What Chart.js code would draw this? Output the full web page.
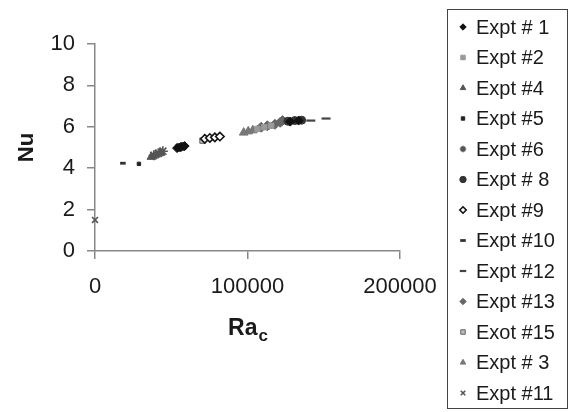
<!DOCTYPE html>
<html>
<head>
<meta charset="utf-8">
<script src="https://cdn.jsdelivr.net/npm/chart.js@4.4.1/dist/chart.umd.min.js"></script>
<style>
	body { margin: 0; background: #fff; }
	#wrap { width: 569px; height: 412px; }
</style>
</head>
<body>
<div id="wrap"><canvas id="nuChart" width="569" height="412"></canvas></div>
<script>
// [Ra_c, Nu] pairs for each experiment
var expt1  = [[53800, 4.97], [56300, 5.02], [58800, 5.07], [128000, 6.25], [133500, 6.30]];
var expt2  = [[106500, 5.90], [111000, 5.98], [115500, 6.05]];
var expt4  = [[37000, 4.55], [40000, 4.66], [43000, 4.75]];
var expt5  = [[28800, 4.21]];
var expt6  = [[38500, 4.62], [41500, 4.72], [44500, 4.82]];
var expt8  = [[55000, 5.00], [57500, 5.05], [126500, 6.27], [131000, 6.30], [135500, 6.32]];
var expt9  = [[72000, 5.42], [75300, 5.46], [78600, 5.49], [81900, 5.53]];
var expt10 = [[18300, 4.24]];
var expt12 = [[141500, 6.30], [151500, 6.40]];
var expt13 = [[109000, 5.98], [113000, 6.05], [118000, 6.12], [121500, 6.22], [123000, 6.30]];
var expt15 = [[70500, 5.33], [108000, 5.92], [112500, 6.00], [117000, 6.08]];
var expt3  = [[97500, 5.72], [100500, 5.78], [103500, 5.83]];
var expt11 = [[0, 1.5]];

var xTicks = [0, 100000, 200000];
var yTicks = [0, 2, 4, 6, 8, 10];

function pts(arr) {
	return arr.map(function(p) { return { x: p[0], y: p[1] }; });
}

function series(label, arr, style) {
	return Object.assign({
		label: label,
		data: pts(arr),
		clip: false,
		pointRadius: 4,
		pointBorderWidth: 1,
		showLine: false
	}, style);
}

var datasets = [
	series("Expt # 1", expt1, { pointStyle: "rectRot", backgroundColor: "#111", borderColor: "#111", pointRadius: 4.5 }),
	series("Expt #2", expt2, { pointStyle: "rect", backgroundColor: "#9a9a9a", borderColor: "#9a9a9a", pointRadius: 3.8 }),
	series("Expt #4", expt4, { pointStyle: "triangle", backgroundColor: "#555", borderColor: "#555", pointRadius: 5 }),
	series("Expt #5", expt5, { pointStyle: "rect", backgroundColor: "#222", borderColor: "#222", pointRadius: 2.4 }),
	series("Expt #6", expt6, { pointStyle: "star", backgroundColor: "#555", borderColor: "#555", pointRadius: 5, pointBorderWidth: 1.6 }),
	series("Expt # 8", expt8, { pointStyle: "circle", backgroundColor: "#333", borderColor: "#333", pointRadius: 4 }),
	series("Expt #9", expt9, { pointStyle: "rectRot", backgroundColor: "#fff", borderColor: "#111", pointRadius: 4.2, pointBorderWidth: 1.6 }),
	series("Expt #10", expt10, { pointStyle: "line", backgroundColor: "#333", borderColor: "#333", pointRadius: 2.8, pointBorderWidth: 2.8 }),
	series("Expt #12", expt12, { pointStyle: "line", backgroundColor: "#444", borderColor: "#444", pointRadius: 4.5, pointBorderWidth: 2.2 }),
	series("Expt #13", expt13, { pointStyle: "rectRot", backgroundColor: "#666", borderColor: "#666", pointRadius: 5 }),
	series("Exot #15", expt15, { pointStyle: "rect", backgroundColor: "#bbb", borderColor: "#666", pointRadius: 3.8 }),
	series("Expt # 3", expt3, { pointStyle: "triangle", backgroundColor: "#777", borderColor: "#777", pointRadius: 5 }),
	series("Expt #11", expt11, { pointStyle: "crossRot", backgroundColor: "#555", borderColor: "#555", pointRadius: 4.2, pointBorderWidth: 1.6 })
];

var FONT = "'Liberation Sans', Arial, sans-serif";

// boxed legend on the right and the subscripted x-axis title
var extras = {
	id: "extras",
	afterDraw: function(chart) {
		var c = chart.ctx;
		c.save();
		c.strokeStyle = "#444";
		c.lineWidth = 1;
		c.strokeRect(447.5, 9.5, 120, 399);

		c.font = "20px " + FONT;
		c.textBaseline = "middle";
		c.textAlign = "left";
		chart.data.datasets.forEach(function(ds, i) {
			var y = 27 + i * 30.5;
			c.fillStyle = ds.backgroundColor;
			c.strokeStyle = ds.borderColor;
			c.lineWidth = ds.pointBorderWidth;
			Chart.helpers.drawPoint(c, {
				pointStyle: ds.pointStyle,
				radius: Math.min(ds.pointRadius, 3.2),
				borderWidth: ds.pointBorderWidth,
				rotation: 0
			}, 463, y);
			c.fillStyle = "#1a1a1a";
			c.fillText(ds.label, 476, y + 1);
		});

		var xs = chart.scales.x;
		var mid = (xs.left + xs.right) / 2;
		c.fillStyle = "#1a1a1a";
		c.textBaseline = "alphabetic";
		c.font = "bold 23px " + FONT;
		var wRa = c.measureText("Ra").width;
		c.font = "bold 17px " + FONT;
		var wC = c.measureText("c").width;
		var x0 = mid - (wRa + wC) / 2;
		c.font = "bold 23px " + FONT;
		c.fillText("Ra", x0, 335);
		c.font = "bold 17px " + FONT;
		c.fillText("c", x0 + wRa + 1, 341);
		c.restore();
	}
};

var tickFont = { family: FONT, size: 22 };

var chart = new Chart(document.getElementById("nuChart"), {
	type: "scatter",
	data: { datasets: datasets },
	options: {
		responsive: false,
		animation: false,
		layout: { padding: { left: 0, right: 169, top: 44, bottom: 0 } },
		plugins: {
			legend: { display: false },
			tooltip: { enabled: false }
		},
		scales: {
			x: {
				type: "linear",
				min: xTicks[0],
				max: xTicks[xTicks.length - 1],
				afterFit: function(s) { s.height = 161; },
				afterBuildTicks: function(s) { s.ticks = xTicks.map(function(v) { return { value: v }; }); },
				ticks: {
					font: tickFont,
					color: "#1a1a1a",
					padding: 15,
					maxRotation: 0,
					callback: function(v) { return String(v); }
				},
				grid: { drawOnChartArea: false, drawTicks: true, tickLength: 8, color: "#888", lineWidth: 1.5 },
				border: { display: true, color: "#888", width: 1.5 }
			},
			y: {
				type: "linear",
				min: yTicks[0],
				max: yTicks[yTicks.length - 1],
				afterFit: function(s) { s.width = 95; },
				afterBuildTicks: function(s) { s.ticks = yTicks.map(function(v) { return { value: v }; }); },
				ticks: {
					font: tickFont,
					color: "#1a1a1a",
					padding: 12,
					callback: function(v) { return String(v); }
				},
				title: {
					display: true,
					text: "Nu",
					color: "#1a1a1a",
					font: { family: FONT, size: 22, weight: "bold" },
					padding: { top: 14, bottom: 0 }
				},
				grid: { drawOnChartArea: false, drawTicks: true, tickLength: 8, color: "#888", lineWidth: 1.5 },
				border: { display: true, color: "#888", width: 1.5 }
			}
		}
	},
	plugins: [extras]
});
</script>
</body>
</html>
